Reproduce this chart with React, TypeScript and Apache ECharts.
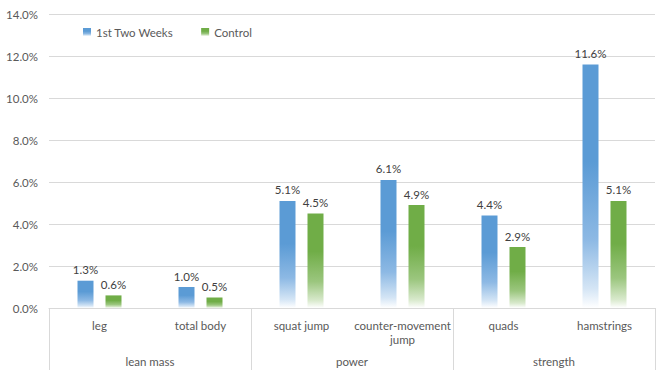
import React, { useEffect, useRef } from "react";
import * as echarts from "echarts";

const categories = ["leg", "total body", "squat jump", "counter-movement jump", "quads", "hamstrings"];
const groups = ["lean mass", "power", "strength"];
const firstTwoWeeks = [1.3, 1.0, 5.1, 6.1, 4.4, 11.6];
const control = [0.6, 0.5, 4.5, 4.9, 2.9, 5.1];
const seriesNames = ["1st Two Weeks", "Control"];

const FONT = "Lato, 'Open Sans', sans-serif";
const FS = 11.5;

function grad(top: string, mid: string, light: string) {
  return new echarts.graphic.LinearGradient(0, 0, 0, 1, [
    { offset: 0, color: top },
    { offset: 0.4, color: top },
    { offset: 0.72, color: mid },
    { offset: 0.92, color: light },
    { offset: 1, color: "#ffffff" },
  ]);
}

export default function App() {
  const ref = useRef<HTMLDivElement>(null);
  useEffect(() => {
    if (!ref.current) return;
    const chart = echarts.init(ref.current, undefined, { renderer: "svg" });
    const labelCfg = {
      show: true,
      position: "top" as const,
      distance: 5,
      color: "#404040",
      fontSize: FS,
      fontFamily: FONT,
      formatter: (p: any) => Number(p.value).toFixed(1) + "%",
    };
    chart.setOption({
      animation: false,
      textStyle: { fontFamily: FONT },
      grid: { left: 49, right: 14, top: 14, bottom: 69 },
      legend: {
        left: 78,
        top: 21,
        itemWidth: 8,
        itemHeight: 8,
        itemGap: 28,
        icon: "rect",
        textStyle: { color: "#595959", fontSize: FS, fontFamily: FONT },
        data: seriesNames,
      },
      xAxis: [
        {
          type: "category",
          data: categories,
          position: "bottom",
          axisLine: { show: true, lineStyle: { color: "#D9D9D9" } },
          axisTick: { show: false },
          axisLabel: {
            interval: 0,
            margin: 10,
            color: "#595959",
            fontSize: FS,
            fontFamily: FONT,
            lineHeight: 14,
            formatter: (v: string) => (v.length > 16 ? v.replace(" ", "\n") : v),
          },
        },
        {
          type: "category",
          data: groups,
          position: "bottom",
          offset: 0,
          axisLine: { show: false },
          axisTick: { show: true, length: 62, interval: 0, lineStyle: { color: "#D9D9D9" } },
          axisLabel: {
            interval: 0,
            margin: 47,
            color: "#595959",
            fontSize: FS,
            fontFamily: FONT,
          },
          splitLine: { show: false },
        },
      ],
      yAxis: {
        type: "value",
        min: 0,
        max: 14,
        interval: 2,
        axisLine: { show: false },
        axisTick: { show: false },
        axisLabel: {
          margin: 11,
          color: "#595959",
          fontSize: FS,
          fontFamily: FONT,
          formatter: (v: number) => v.toFixed(1) + "%",
        },
        splitLine: { lineStyle: { color: "#D9D9D9" } },
      },
      series: [
        {
          name: seriesNames[0],
          type: "bar",
          data: firstTwoWeeks,
          barWidth: 16,
          barGap: "75%",
          itemStyle: { color: grad("#5B9BD5", "#8DB9E4", "#D4E5F5") },
          label: labelCfg,
        },
        {
          name: seriesNames[1],
          type: "bar",
          data: control,
          barWidth: 16,
          barGap: "75%",
          itemStyle: { color: grad("#70AD47", "#9BC67E", "#D8E9CC") },
          label: labelCfg,
        },
      ],
    });
    return () => chart.dispose();
  }, []);
  return <div ref={ref} style={{ width: 669, height: 377, position: "absolute", left: 0, top: 0 }} />;
}
